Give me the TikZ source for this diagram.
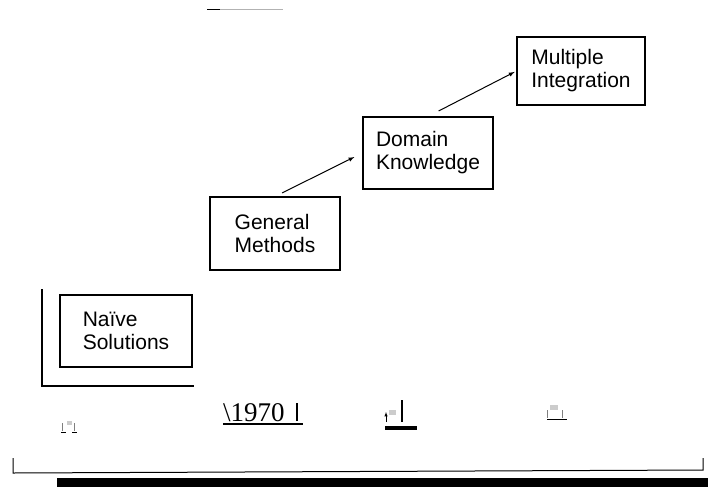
\documentclass[tikz,border=0pt]{standalone}
\usepackage{fontspec}
\setmainfont{Liberation Serif}
\setsansfont{Liberation Sans}

\begin{document}
\begin{tikzpicture}[x=1pt,y=-1pt,
  stage/.style={draw,line width=1.1pt,align=left,inner sep=0pt,
    font=\sffamily\fontsize{21}{23}\selectfont},
  trend/.style={-latex,line width=1pt}]
\useasboundingbox (0,0) rectangle (708,487);

% Stages of the approach
\node[stage,minimum width=132,minimum height=72] (naive) at (126,331) {Naïve\\Solutions};
\node[stage,minimum width=130,minimum height=73] (general) at (275,233.5) {General\\Methods};
\node[stage,minimum width=130,minimum height=72] (domain) at (428,153) {Domain\\Knowledge};
\node[stage,minimum width=128,minimum height=68] (multiple) at (581,71) {Multiple\\Integration};

% Progression arrows
\draw[trend,shorten <=8pt,shorten >=9pt] (general.north) -- (domain.west);
\draw[trend,shorten <=12pt,shorten >=2pt] (domain.north) -- (multiple.west);

% Axis corner
\draw[line width=1.4pt] (42,289) -- (42,386) -- (194,386);

% Year mark
\node[font=\fontsize{27}{27}\selectfont,inner sep=0pt,anchor=base west] (year) at (223,421) {\textbackslash 1970};
\draw[line width=1.6pt] (223,424) -- (303,424);
\draw[line width=1.6pt] (297,403) -- (297,421);

% Small tick marks
\draw[line width=2pt] (402,400) -- (402,422);
\fill (385,426) rectangle (417,430);
\draw[-latex,line width=0.5pt] (386,422) -- (386,412);
\fill[gray!40] (389,410) rectangle (396,415);

\draw[gray,line width=0.8pt] (547,410) -- (547,418) (562,410) -- (562,418);
\fill[gray!40] (550,405) rectangle (558,410);
\draw[line width=0.8pt] (547,419) -- (567,419);

\draw[gray,line width=0.8pt] (62,423) -- (62,431) (74,423) -- (74,431);
\fill[gray!40] (67,421) rectangle (72,425);
\draw[line width=0.8pt] (61,432) -- (66,432) (72,432) -- (77,432);

% Top rule
\draw[gray!60,line width=1pt] (207,10) -- (283,10);
\draw[line width=1pt] (207,10) -- (220,10);

% Bottom frame and bar
\draw[line width=1pt] (13,458) -- (13,473) -- (703,470) -- (703,458);
\fill (57,478) rectangle (708,487);
\end{tikzpicture}
\end{document}
